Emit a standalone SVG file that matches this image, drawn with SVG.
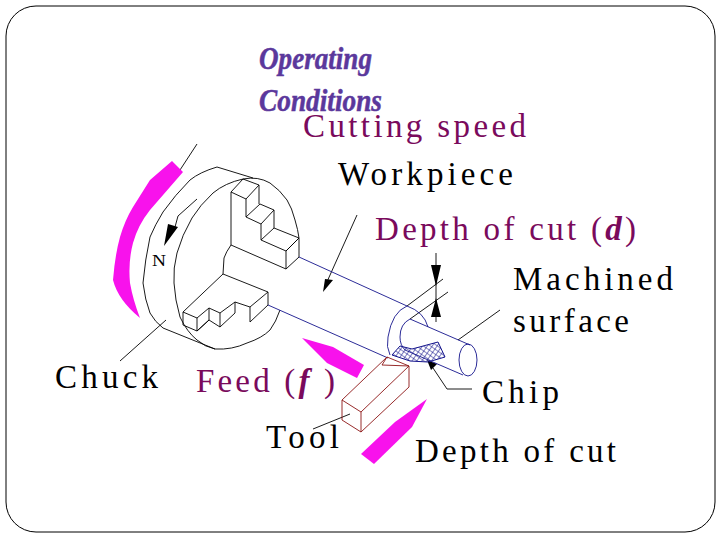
<svg xmlns="http://www.w3.org/2000/svg" width="720" height="540" viewBox="0 0 720 540">
<style>
text{font-family:"Liberation Serif","Times New Roman",serif;font-size:33px;fill:#000}
.m{fill:#7a0a5c}
.h{font-family:"Liberation Serif",serif;font-size:32px;font-weight:700;font-style:italic;fill:#5b389c;stroke:#5b389c;stroke-width:.5}
.k{fill:none;stroke:#000;stroke-width:.9}
.b{fill:none;stroke:#14148c;stroke-width:.9}
.r{fill:none;stroke:#8c1414;stroke-width:.9}
.p{fill:#f812ec;stroke:none}
.a{fill:#000;stroke:none}
</style>
<defs>
<pattern id="hatch" width="4" height="4" patternUnits="userSpaceOnUse" patternTransform="rotate(35)">
<path d="M0 0H4M0 0V4" fill="none" stroke="#14148c" stroke-width="1.1"/>
</pattern>
</defs>
<rect x="6" y="6" width="709" height="526" rx="30" ry="30" fill="#fff" stroke="#000" stroke-width="1"/>
<g id="title">
<text class="h" x="259" y="69" textLength="113" lengthAdjust="spacingAndGlyphs">Operating</text>
<text class="h" x="259" y="111" textLength="123" lengthAdjust="spacingAndGlyphs">Conditions</text>
</g>
<g id="connectors">
<path class="k" d="M197 144L180 170M197 199L178 216L175 227M166 320L120 361M357 215L326 284M458 340L500 310M350 414L313 429M472 389H447L433 368M436 253V322M443 279L407 306M448 292L410 319"/>
<path class="a" d="M168 224L178 227L164 246ZM325 279L333 280L323 292ZM431 265H441L436 286ZM436 298L441 317H431ZM427 360L437 364L431 370Z"/>
</g>
<g id="chuck">
<path class="k" d="M253 178L217 167Q200 172 190 180Q175 195 163 212Q155 225 150 237Q145 260 143 283Q145 300 150 313Q155 322 163 328L215 349"/>
<path class="k" d="M243 179Q225 183 213 193Q200 205 192 218Q182 235 177 253Q173 268 174 283Q175 300 180 317Q187 332 197 340Q205 347 215 349Q232 350 247 343Q262 338 270 330Q276 322 280 310"/>
<path class="k" d="M243 179Q258 176 270 183Q280 190 287 200Q292 208 295 220Q298 230 299 238"/>
<path class="k" d="M231 192L243 179L259 185L246 199L231 192V245L286 269V251L299 238V257L286 269M246 199V217L260 204L274 210L261 224V240L274 228L299 238M259 185V204M274 210V228M246 217L261 224M261 240L286 251L299 238M231 245Q226 252 224 258L223 274"/>
<path class="k" d="M223 274L268 292V305L250 322V307L235 302V313L220 327V313L209 308V320L197 331V318L183 312V325L197 331L209 320L220 327M183 312L223 274M268 292L250 307M235 302L220 313M209 308L197 318"/>
<text x="152" y="266" style="font-size:17px" textLength="14" lengthAdjust="spacingAndGlyphs">N</text>
</g>
<g id="workpiece">
<path class="b" d="M299 257L407 306M268 305L388 358M407 306Q392 312 388 337Q386 347 390 355M407 306Q424 312 428 327M410 319Q400 324 400 337Q400 345 405 350M410 319L470 345M405 350L463 375"/>
<ellipse class="b" cx="468" cy="360" rx="9" ry="16"/>
<path d="M400 346L412 349L438 342L445 357L428 362L410 361L392 355Z" fill="url(#hatch)" stroke="#14148c"/>
</g>
<g id="tool">
<path class="r" d="M342 400L387 357L409 366V387L361 432V412L342 400V420L361 432M361 412L409 366M387 357L382 365L409 366"/>
</g>
<g id="arrows">
<path class="p" d="M172 161L183 172L150 210Q138 225 133 243Q128 262 130 283Q133 300 140 318Q118 300 113 280Q115 255 120 237Q125 220 133 207L150 180Z"/>
<path class="p" d="M302 338L333 347L364 365L357 378L327 363Z"/>
<path class="p" d="M427 399L412 427L374 464L361 454L395 422Z"/>
</g>
<g id="labels">
<text class="m" x="303" y="137" textLength="223" lengthAdjust="spacing">Cutting speed</text>
<text x="338" y="185" textLength="175" lengthAdjust="spacing">Workpiece</text>
<text class="m" x="375" y="240" textLength="261" lengthAdjust="spacing">Depth of cut (<tspan font-weight="700" font-style="italic">d</tspan>)</text>
<text x="513" y="290" textLength="160" lengthAdjust="spacing">Machined</text>
<text x="513" y="332" textLength="116" lengthAdjust="spacing">surface</text>
<text x="55" y="388" textLength="103" lengthAdjust="spacing">Chuck</text>
<text class="m" x="196" y="392" textLength="139" lengthAdjust="spacing">Feed (<tspan font-weight="700" font-style="italic">f</tspan> )</text>
<text x="482" y="403" textLength="77" lengthAdjust="spacing">Chip</text>
<text x="266" y="448" textLength="73" lengthAdjust="spacing">Tool</text>
<text x="415" y="462" textLength="201" lengthAdjust="spacing">Depth of cut</text>
</g>
</svg>
